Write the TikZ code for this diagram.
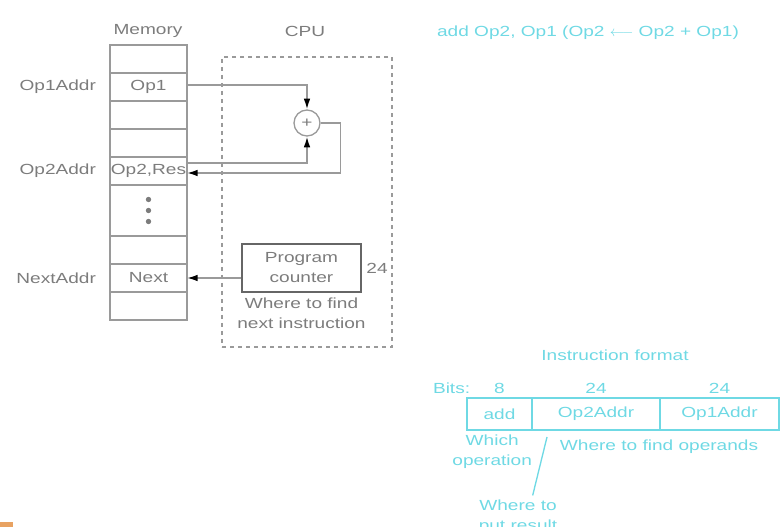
\documentclass[tikz,border=0pt]{standalone}
\usepackage{fontspec}
\newfontfamily\diagfont[FakeStretch=1.3]{Liberation Sans}
\definecolor{MemGray}{HTML}{9A9A9A}
\definecolor{TextGray}{HTML}{7C7C7C}
\definecolor{PcGray}{HTML}{666666}
\definecolor{InstCyan}{HTML}{6FD9E4}
\definecolor{MarkOrange}{HTML}{E8A262}
\usetikzlibrary{positioning, arrows.meta, calc}

\begin{document}
\begin{tikzpicture}[
  x=0.75pt, y=-0.75pt,
  every node/.style={font=\diagfont\fontsize{11}{15}\selectfont, text=TextGray},
  cell/.style={draw=MemGray, line width=1.2pt, minimum width=57.75pt, minimum height=21pt,
               inner sep=0pt, outer sep=0pt},
  addr/.style={anchor=east},
  cpubox/.style={draw=MemGray, line width=1pt, dash pattern=on 3pt off 3pt},
  adder/.style={circle, draw=MemGray, line width=1pt, minimum size=19.5pt, inner sep=0pt},
  pcbox/.style={draw=PcGray, line width=1.3pt, minimum width=89pt, minimum height=36pt,
                align=center, inner sep=0pt},
  link/.style={draw=MemGray, line width=1.2pt, -{Latex[length=8pt, width=5pt, color=black]}},
  inst/.style={text=InstCyan},
  icell/.style={draw=InstCyan, line width=1pt, minimum height=24pt, inner sep=0pt,
                outer sep=0pt, text=InstCyan},
]
  \useasboundingbox (0,0) rectangle (782,527);

  % memory column
  \node[cell] (m1) at (148.5,59) {};
  \node[cell, below=0pt of m1] (m2) {Op1};
  \node[cell, below=0pt of m2] (m3) {};
  \node[cell, below=0pt of m3] (m4) {};
  \node[cell, below=0pt of m4] (m5) {Op2,Res};
  \node[cell, below=0pt of m5, minimum height=38.25pt] (m6) {};
  \node[cell, below=0pt of m6] (m7) {};
  \node[cell, below=0pt of m7] (m8) {Next};
  \node[cell, below=0pt of m8] (m9) {};
  \foreach \d in {-11,0,11}
    \fill[TextGray] ($(m6.center)+(0,\d)$) circle (2pt);

  \node (memlbl) at (148,31) {Memory};
  \node[addr, left=7pt of m2] (a1) {Op1Addr};
  \node[addr, left=7pt of m5] (a2) {Op2Addr};
  \node[addr, left=7pt of m8] (a3) {NextAddr};

  % cpu
  \node[cpubox, minimum width=127.5pt, minimum height=217.5pt] (cpu) at (307,202) {};
  \node (cpulbl) at (305,31) {CPU};
  \node[adder] (add) at (307,123) {+};
  \node[pcbox] (pc) at (301.5,268) {Program\\counter};
  \node[right=0pt of pc] (pcbits) {24};
  \node[below=0pt of pc, align=center] (pcnote) {Where to find\\next instruction};

  \draw[link] ([yshift=1.5pt]m2.east) -| (add.north);
  \draw[link] ([yshift=6pt]m5.east) -| (add.south);
  \draw[link] (add.east) -- ++(20,0) |- ([yshift=-1.5pt]m5.east);
  \draw[link] (pc.west |- m8.east) -- (m8.east);

  % instruction
  \node[inst] (title) at (588,33) {add Op2, Op1 (Op2 $\longleftarrow$ Op2 + Op1)};
  \node[inst] (fmt) at (615,355) {Instruction format};

  \node[icell, minimum width=48.75pt] (fop) at (499.5,414) {add};
  \node[icell, minimum width=96pt, right=0pt of fop] (fa2) {Op2Addr};
  \node[icell, minimum width=89.25pt, right=0pt of fa2] (fa1) {Op1Addr};

  \node[inst, above=0pt of fop] (b8) {8};
  \node[inst, above=0pt of fa2] (b24a) {24};
  \node[inst, above=0pt of fa1] (b24b) {24};
  \node[inst, left=11pt of b8] (bits) {Bits:};

  \node[inst, below=0pt of fop, align=center, xshift=-5.5pt] (wop) {Which\\operation};
  \node[inst] (wfind) at (659,447) {Where to find operands};
  \node[inst, align=center] (wres) at (518,517) {Where to\\put result};
  \coordinate (rtop) at (547,437);
  \draw[InstCyan, line width=1pt] ([xshift=11pt]wres.north) -- (rtop);

  \fill[MarkOrange] (0,522) rectangle (13,527);
\end{tikzpicture}
\end{document}
